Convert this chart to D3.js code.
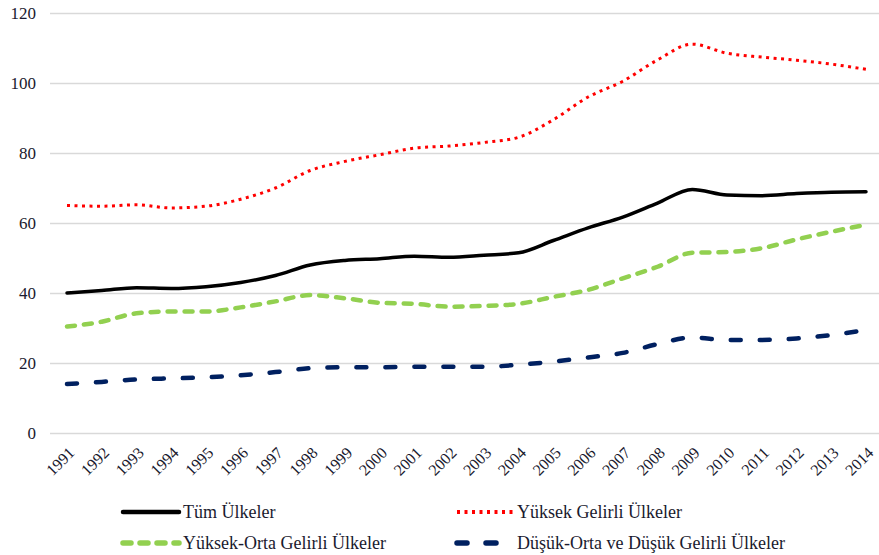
<html>
  <head>
    <script src="https://d3js.org/d3.v7.min.js"></script>
    <style>
      body { margin: 0; background: #fff; }
      svg text { font-family: "Times New Roman", Times, "Liberation Serif", Tinos, "DejaVu Serif", serif !important; fill: #1a1a2e; }
    </style>
  </head>
  <body>
<div id="chart"></div>
<script>
// years and series values
var years = d3.range(1991, 2015).map(String);
var yTicks = [0, 20, 40, 60, 80, 100, 120];

var tumUlkeler = [40, 40.7, 41.5, 41.3, 41.8, 43, 45, 48, 49.3, 49.8, 50.5, 50.2, 50.8, 51.5, 55, 58.6, 61.7, 65.7, 69.6, 68, 67.8, 68.4, 68.8, 68.9];
var yuksekGelirli = [65, 64.8, 65.2, 64.3, 64.8, 66.8, 70, 75, 77.6, 79.5, 81.4, 82, 83, 84.5, 89.5, 96, 100.5, 106.6, 111.1, 108.5, 107.4, 106.5, 105.4, 103.9];
var yuksekOrta = [30.4, 31.8, 34.2, 34.7, 34.7, 35.9, 37.6, 39.4, 38.5, 37.2, 36.9, 36.1, 36.3, 36.9, 38.9, 40.9, 44.2, 47.5, 51.5, 51.7, 52.8, 55.3, 57.5, 59.5];
var dusukOrta = [14, 14.6, 15.3, 15.6, 15.9, 16.5, 17.4, 18.5, 18.8, 18.8, 18.9, 18.9, 18.9, 19.5, 20.4, 21.6, 22.9, 25.4, 27.3, 26.6, 26.6, 27, 28, 29.4];

var seriesNames = ["Tüm Ülkeler", "Yüksek Gelirli Ülkeler", "Yüksek-Orta Gelirli Ülkeler", "Düşük-Orta ve Düşük Gelirli Ülkeler"];

var width = 879, height = 555;
var svg = d3.select("#chart").append("svg")
  .attr("width", width)
  .attr("height", height);

var x = d3.scalePoint()
  .domain(years)
  .range([67, 866]);

var y = d3.scaleLinear()
  .domain([0, 120])
  .range([433, 13]);

// gridlines + y labels
var yAxis = svg.append("g")
  .attr("transform", "translate(50,0)")
  .call(d3.axisLeft(y).tickValues(yTicks).tickSize(-(879 - 50)).tickPadding(14));
yAxis.attr("font-family", null);
yAxis.select(".domain").remove();
yAxis.selectAll("line").attr("stroke", "#d9d9d9").attr("stroke-width", 1.5);
yAxis.selectAll("text").style("font-size", "17px");

// x labels
var xAxis = svg.append("g")
  .attr("transform", "translate(0,433)")
  .call(d3.axisBottom(x).tickSize(0).tickPadding(0));
xAxis.attr("font-family", null);
xAxis.select(".domain").remove();
xAxis.selectAll("text")
  .attr("x", 0).attr("y", 0).attr("dy", "0.35em")
  .attr("text-anchor", "end")
  .attr("transform", "translate(4,17) rotate(-45)")
  .style("font-size", "16px");

// line styles
var styles = [
  {data: tumUlkeler, color: "#000000", width: 3.5, dash: null, cap: "round"},
  {data: yuksekGelirli, color: "#ff0000", width: 3, dash: "3,4.5", cap: "butt"},
  {data: yuksekOrta, color: "#92d050", width: 4.5, dash: "8,9", cap: "round"},
  {data: dusukOrta, color: "#002060", width: 4.5, dash: "10,19", cap: "round"}
];

var line = d3.line()
  .x(function(d, i) { return x(years[i]); })
  .y(function(d) { return y(d); })
  .curve(d3.curveMonotoneX);

styles.forEach(function(s) {
  svg.append("path")
    .datum(s.data)
    .attr("fill", "none")
    .attr("stroke", s.color)
    .attr("stroke-width", s.width)
    .attr("stroke-dasharray", s.dash)
    .attr("stroke-linecap", s.cap)
    .attr("d", line);
});

// legend
var legendPos = [[123, 512], [457, 512], [123, 543], [457, 543]];
styles.forEach(function(s, i) {
  var p = legendPos[i];
  svg.append("line")
    .attr("x1", p[0]).attr("x2", p[0] + 56)
    .attr("y1", p[1]).attr("y2", p[1])
    .attr("stroke", s.color)
    .attr("stroke-width", s.width + 1)
    .attr("stroke-dasharray", s.dash)
    .attr("stroke-linecap", s.cap);
  svg.append("text")
    .attr("x", p[0] + 60)
    .attr("y", p[1])
    .attr("dy", "0.35em")
    .style("font-size", "18px")
    .text(seriesNames[i]);
});
</script>
  </body>
</html>
